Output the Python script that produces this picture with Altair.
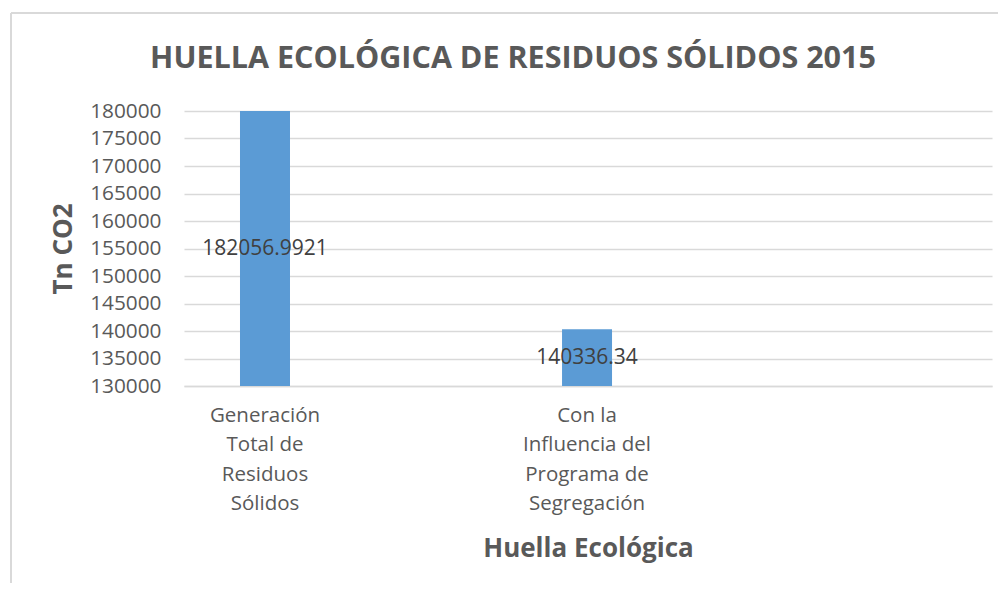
import altair as alt
import pandas as pd

categories = [
    "Generación\nTotal de\nResiduos\nSólidos",
    "Con la\nInfluencia del\nPrograma de\nSegregación",
]
values = [182056.9921, 140336.34]
value_labels = ["182056.9921", "140336.34"]
y_min = 130000
y_max = 180000
y_ticks = list(range(130000, 180001, 5000))

df = pd.DataFrame({"category": categories, "value": values, "label": value_labels})

FONT = "Open Sans"
GREY = "#595959"
GRID = "#D9D9D9"
W, H = 808, 275

x_scale = alt.Scale(type="band", paddingInner=0.497, paddingOuter=0.503, align=0)
y_scale = alt.Scale(domain=[y_min, y_max], zero=False, nice=False)

x_axis = alt.Axis(
    title="Huella Ecológica",
    labelExpr="split(datum.label, '\\n')",
    labelAngle=0,
    labelFont=FONT,
    labelFontSize=20.5,
    labelColor=GREY,
    labelLineHeight=29.5,
    labelPadding=19,
    labelBaseline="top",
    labelLimit=300,
    ticks=False,
    domainColor=GRID,
    domainWidth=1.5,
    grid=False,
    titleFont=FONT,
    titleFontSize=26,
    titleFontWeight="bold",
    titleColor=GREY,
    titlePadding=21,
)

y_axis = alt.Axis(
    title="Tn CO2",
    values=y_ticks,
    format="d",
    labelFont=FONT,
    labelFontSize=20.8,
    labelColor=GREY,
    labelPadding=23,
    labelOverlap=False,
    ticks=False,
    domain=False,
    gridColor=GRID,
    gridWidth=1.5,
    titleFont=FONT,
    titleFontSize=26,
    titleFontWeight="bold",
    titleColor=GREY,
    titlePadding=13,
)

base = alt.Chart(df)

bars = base.mark_bar(size=50, color="#5B9BD5", clip=True).encode(
    x=alt.X("category:N", sort=categories, scale=x_scale, axis=x_axis),
    y=alt.Y("value:Q", scale=y_scale, axis=y_axis),
    y2=alt.datum(y_min),
)

texts = base.transform_calculate(
    mid=f"(min(datum.value, {y_max}) + {y_min}) / 2"
).mark_text(font=FONT, fontSize=21, color="#404040", baseline="middle").encode(
    x=alt.X("category:N", sort=categories, scale=x_scale, axis=x_axis),
    y=alt.Y("mid:Q", scale=y_scale, axis=y_axis),
    text="label:N",
)

border_left = base.mark_rule(color=GRID, strokeWidth=2).encode(
    x=alt.value(-173), y=alt.value(-98), y2=alt.value(H + 210)
)
border_top = base.mark_rule(color=GRID, strokeWidth=2).encode(
    x=alt.value(-173), x2=alt.value(W + 30), y=alt.value(-98)
)

chart = (
    alt.layer(border_left, border_top, bars, texts)
    .properties(
        width=W,
        height=H,
        title=alt.Title(
            "HUELLA ECOLÓGICA DE RESIDUOS SÓLIDOS 2015",
            font=FONT,
            fontSize=30.5,
            fontWeight="bold",
            color=GREY,
            anchor="middle",
            dx=-75,
            offset=-62,
        ),
        autosize=alt.AutoSizeParams(type="none"),
        padding={"left": 176, "top": 103, "right": 6, "bottom": 197},
    )
    .configure_view(stroke=None)
)

chart.save("out.html", embed_options={"renderer": "svg", "actions": False})
